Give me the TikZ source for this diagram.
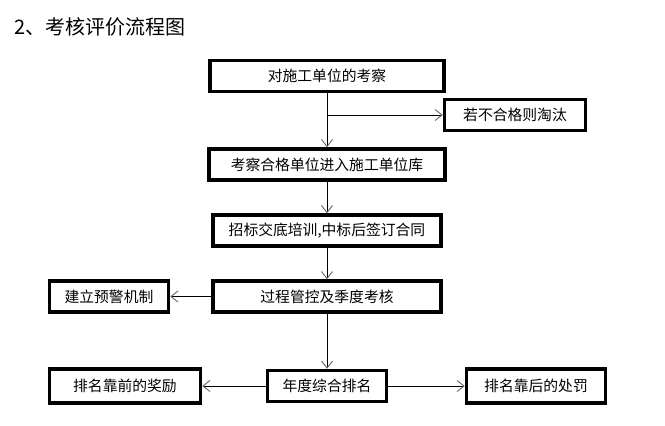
\documentclass[tikz,border=0pt]{standalone}
\usepackage{fontspec}
\setmainfont{Noto Sans CJK SC}
\usetikzlibrary{arrows.meta}
\begin{document}
\begin{tikzpicture}
          [x=1pt,y=-1pt,
           box/.style={draw, line width=3.5pt, rectangle, inner sep=0pt, minimum height=31pt, align=center, font=\fontsize{14.8}{17}\selectfont},
           flow/.style={line width=0.9pt, -{Straight Barb[length=7pt,width=11pt,line width=0.9pt,color=black!60]}}]
        \useasboundingbox (0,0) rectangle (665,426);
        \node[anchor=west, inner sep=0pt, font=\fontsize{20}{24}\selectfont] (title) at (14,27) {2、考核评价流程图};
        \node[box, minimum width=234pt] (n1) at (327,76) {对施工单位的考察};
        \node[box, minimum width=141pt] (nfail) at (515,115) {若不合格则淘汰};
        \node[box, minimum width=236pt] (n2) at (327,164.5) {考察合格单位进入施工单位库};
        \node[box, minimum width=228pt] (n3) at (327,230.5) {招标交底培训,中标后签订合同};
        \node[box, minimum width=228pt] (n4) at (327,296.5) {过程管控及季度考核};
        \node[box, minimum width=119pt] (nwarn) at (109,296.5) {建立预警机制};
        \node[box, minimum width=119pt] (n5) at (327,386) {年度综合排名};
        \node[box, minimum width=151pt, minimum height=34pt] (nreward) at (125,386) {排名靠前的奖励};
        \node[box, minimum width=139pt, minimum height=34pt] (npenalty) at (536,386) {排名靠后的处罚};

      \foreach \from/\to in {n1/n2, n2/n3, n3/n4, n4/nwarn, n4/n5, n5/nreward, n5/npenalty}
        \draw[flow] (\from) -- (\to);
      \draw[flow] (n1.south |- nfail.west) -- (nfail.west);
      \end{tikzpicture}
\end{document}
